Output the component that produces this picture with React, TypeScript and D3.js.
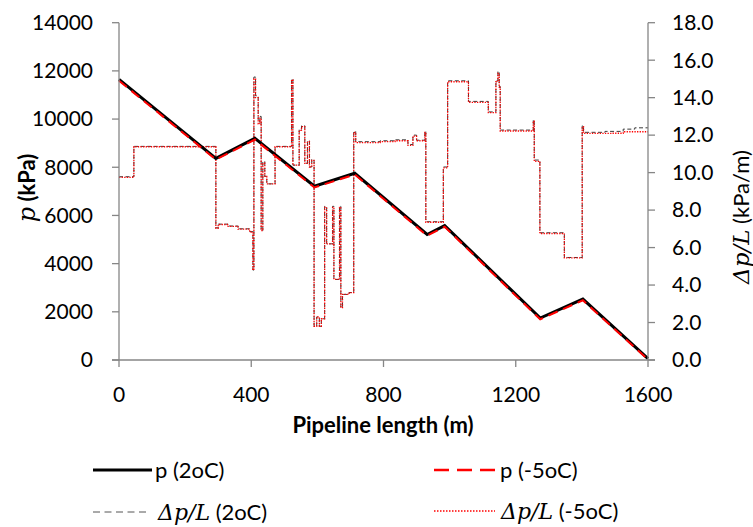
import * as d3 from 'd3'

// pressure along the line, kPa
const P_WARM: [number, number][] = [
  [0, 11650], [293, 8370], [411, 9200], [591, 7210], [713, 7750],
  [932, 5210], [985, 5580], [1274, 1740], [1403, 2530], [1600, 60],
]
const P_COLD: [number, number][] = [
  [0, 11590], [293, 8320], [411, 9150], [591, 7160], [713, 7700],
  [932, 5160], [985, 5530], [1274, 1690], [1403, 2480], [1600, 20],
]

// pressure gradient, kPa/m (step values)
const G_WARM: [number, number][] = [
  [0, 9.78], [45, 11.4], [293, 7.05], [300, 7.25], [330, 7.15], [360, 7.0], [395, 6.85],
  [405, 4.8], [408, 15.1], [413, 14.1], [421, 12.7], [426, 13.0], [430, 6.9], [435, 10.6],
  [441, 9.8], [447, 9.4], [472, 11.4], [522, 15.0], [526, 10.4],
  [545, 12.3], [552, 12.5], [562, 10.5], [570, 11.7], [576, 10.3], [583, 10.7], [590, 1.8],
  [598, 2.3], [606, 1.8], [612, 2.2], [622, 8.2], [628, 6.2], [646, 8.2], [650, 4.3],
  [667, 8.2], [671, 2.8], [676, 3.5], [696, 3.6], [710, 12.2], [716, 11.65], [790, 11.7],
  [835, 11.75], [874, 11.5], [889, 12.0], [900, 11.73], [925, 12.2], [928, 7.38],
  [981, 10.3], [994, 14.9], [1057, 13.8], [1117, 13.24], [1140, 14.9], [1146, 15.4],
  [1150, 14.6], [1153, 12.27], [1253, 12.8], [1256, 10.67], [1273, 6.79], [1347, 5.47],
  [1401, 12.5], [1405, 12.15], [1470, 12.2], [1525, 12.32], [1560, 12.39], [1600, 12.39],
]
const G_COLD: [number, number][] = [
  [0, 9.75], [45, 11.38], [293, 7.03], [300, 7.23], [330, 7.13], [360, 6.98], [395, 6.83],
  [405, 4.8], [408, 15.0], [413, 14.0], [421, 12.6], [426, 12.9], [430, 6.9], [435, 10.5],
  [441, 9.8], [447, 9.4], [472, 11.38], [522, 14.95], [526, 10.4],
  [545, 12.25], [552, 12.45], [562, 10.5], [570, 11.65], [576, 10.3], [583, 10.65], [590, 1.8],
  [598, 2.3], [606, 1.8], [612, 2.2], [622, 8.15], [628, 6.2], [646, 8.15], [650, 4.3],
  [667, 8.15], [671, 2.8], [676, 3.5], [696, 3.6], [710, 12.15], [716, 11.6], [790, 11.65],
  [835, 11.7], [874, 11.45], [889, 11.95], [900, 11.7], [925, 12.15], [928, 7.35],
  [981, 10.25], [994, 14.85], [1057, 13.75], [1117, 13.2], [1140, 14.85], [1146, 15.3],
  [1150, 14.55], [1153, 12.22], [1253, 12.75], [1256, 10.6], [1273, 6.75], [1347, 5.45],
  [1401, 12.45], [1405, 12.09], [1490, 12.1], [1525, 12.18], [1600, 12.18],
]

const X_TICKS = [0, 400, 800, 1200, 1600]
const P_TICKS = [0, 2000, 4000, 6000, 8000, 10000, 12000, 14000]
const G_TICKS = [0, 2, 4, 6, 8, 10, 12, 14, 16, 18]

const W = 753
const H = 527
const FONT = 'Lato, "Open Sans", sans-serif'
const MATH = '"DejaVu Serif", serif'
const AXIS = '#868686'
const INK = '#000'

export default function App() {
  const x = d3.scaleLinear().domain([0, 1600]).range([119, 648])
  const yP = d3.scaleLinear().domain([0, 14000]).range([360, 22.7])
  const yG = d3.scaleLinear().domain([0, 18]).range([360, 22.7])

  const pLine = d3.line<[number, number]>().x(d => x(d[0])).y(d => yP(d[1]))
  const gLine = d3.line<[number, number]>().x(d => x(d[0])).y(d => yG(d[1])).curve(d3.curveStepAfter)

  return (
    <svg width={W} height={H} style={{ position: 'absolute', left: 0, top: 0, background: '#fff' }}
      fontFamily={FONT}>
      {/* gradient series */}
      <path d={gLine(G_WARM) ?? ''} fill="none" stroke="#3a3a3a" strokeWidth={1} strokeDasharray="4,2.5" />
      <path d={gLine(G_COLD) ?? ''} fill="none" stroke="#ff0000" strokeWidth={1.3} strokeDasharray="1.3,1.3" />

      {/* pressure series */}
      <path d={pLine(P_WARM) ?? ''} fill="none" stroke="#000" strokeWidth={3} />
      <path d={pLine(P_COLD) ?? ''} fill="none" stroke="#ff0000" strokeWidth={2} strokeDasharray="10,6" />

      {/* left axis */}
      <line x1={119} x2={119} y1={yP(14000)} y2={yP(0)} stroke={AXIS} strokeWidth={1.3} />
      {P_TICKS.map(t => (
        <g key={t}>
          <line x1={112} x2={119} y1={yP(t)} y2={yP(t)} stroke={AXIS} strokeWidth={1.3} />
          <text x={93} y={yP(t)} dy="0.35em" textAnchor="end" fontSize={21} fill={INK}>{t}</text>
        </g>
      ))}

      {/* right axis */}
      <line x1={648} x2={648} y1={yG(18)} y2={yG(0)} stroke={AXIS} strokeWidth={1.3} />
      {G_TICKS.map(t => (
        <g key={t}>
          <line x1={648} x2={655} y1={yG(t)} y2={yG(t)} stroke={AXIS} strokeWidth={1.3} />
          <text x={672} y={yG(t)} dy="0.35em" textAnchor="start" fontSize={21} fill={INK}>{t.toFixed(1)}</text>
        </g>
      ))}

      {/* x axis */}
      <line x1={112} x2={655} y1={360} y2={360} stroke={AXIS} strokeWidth={1.3} />
      {X_TICKS.map(t => (
        <g key={t}>
          <line x1={x(t)} x2={x(t)} y1={360} y2={367} stroke={AXIS} strokeWidth={1.3} />
          <text x={x(t)} y={395} dy="0.35em" textAnchor="middle" fontSize={21} fill={INK}>{t}</text>
        </g>
      ))}

      <text x={383} y={425} dy="0.35em" textAnchor="middle" fontSize={22} fontWeight="bold" fill={INK}>
        Pipeline length (m)
      </text>

      <text transform="translate(27,188) rotate(-90)" textAnchor="middle" dy="0.35em" fontSize={22} fill={INK}>
        <tspan fontFamily={MATH} fontStyle="italic" fontSize={24}>p</tspan>
        <tspan fontWeight="bold"> (kPa)</tspan>
      </text>

      <text transform="translate(741,217) rotate(-90)" textAnchor="middle" dy="0.35em" fontSize={22} fill={INK}>
        <tspan fontFamily={MATH} fontStyle="italic" fontSize={23}>Δp/L</tspan>
        <tspan> (kPa/m)</tspan>
      </text>

      {/* legend */}
      <line x1={93} x2={152} y1={470} y2={470} stroke="#000" strokeWidth={3} />
      <text x={155} y={470} dy="0.35em" fontSize={22} fill={INK}>p (2oC)</text>

      <line x1={434} x2={496} y1={470} y2={470} stroke="#ff0000" strokeWidth={2.5} strokeDasharray="15,8" />
      <text x={500} y={470} dy="0.35em" fontSize={22} fill={INK}>p (-5oC)</text>

      <line x1={93} x2={150} y1={512} y2={512} stroke="#555" strokeWidth={1} strokeDasharray="7,4.5" />
      <text x={158} y={512} dy="0.35em" fontSize={22} fill={INK}>
        <tspan fontFamily={MATH} fontStyle="italic">Δp/L</tspan>
        <tspan> (2oC)</tspan>
      </text>

      <line x1={434} x2={495} y1={511} y2={511} stroke="#ff0000" strokeWidth={1.3} strokeDasharray="1.5,1.5" />
      <text x={501} y={511} dy="0.35em" fontSize={22} fill={INK}>
        <tspan fontFamily={MATH} fontStyle="italic">Δp/L</tspan>
        <tspan> (-5oC)</tspan>
      </text>
    </svg>
  )
}
